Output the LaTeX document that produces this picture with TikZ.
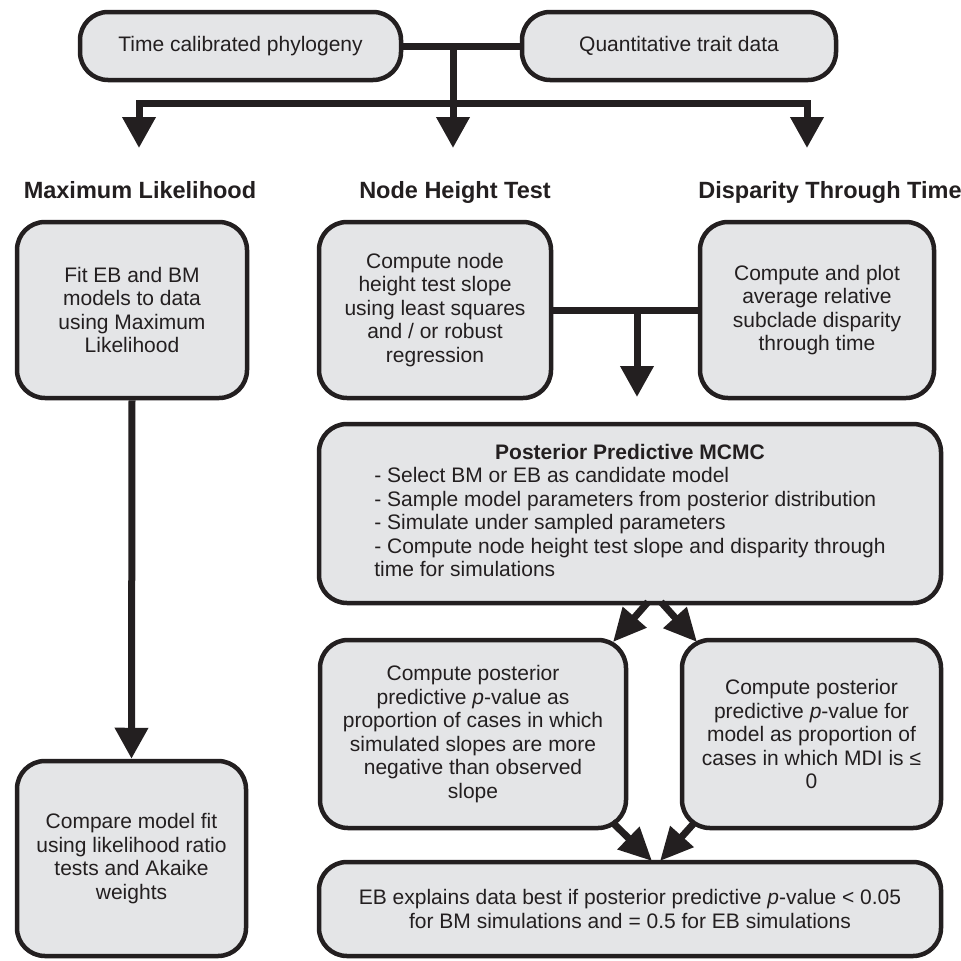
\documentclass[tikz,border=0pt]{standalone}
\usepackage{fontspec}
\setmainfont{Liberation Sans}
\usetikzlibrary{arrows.meta}
\definecolor{boxfill}{HTML}{E4E5E7}
\definecolor{ink}{HTML}{231F20}
\begin{document}
\begin{tikzpicture}[x=1pt,y=-1pt,
  box/.style={draw=ink, line width=4.5pt, fill=boxfill, rounded corners=28pt,
    inner sep=0pt, align=center, text=ink, font=\fontsize{21}{23.5}\selectfont},
  conn/.style={draw=ink, line width=7pt},
  arr/.style={conn, -{Triangle[length=31pt,width=32pt]}},
  darr/.style={conn, line cap=butt, -{Triangle[length=33pt,width=30pt]}},
  ttl/.style={font=\bfseries\fontsize{23.5}{26}\selectfont, text=ink, anchor=base}]
\fill[white] (0,0) rectangle (961,961);
\useasboundingbox (0,0) rectangle (961,961);

% top boxes
\node[box, minimum width=321pt, minimum height=68pt] (A) at (240.5,46) {Time calibrated phylogeny};
\node[box, minimum width=314pt, minimum height=68pt] (B) at (679,46) {Quantitative trait data};

% titles
\node[ttl] (tML) at (140,198) {Maximum Likelihood};
\node[ttl] (tNH) at (455,198) {Node Height Test};
\node[ttl] (tDT) at (830,198) {Disparity Through Time};

% boxes
\node[box, minimum width=230pt, minimum height=176pt] (ML) at (132,310)
  {Fit EB and BM\\models to data\\using Maximum\\Likelihood};
\node[box, minimum width=229pt, minimum height=195pt] (CMP) at (131.5,858.5)
  {Compare model fit\\using likelihood ratio\\tests and Akaike\\weights};
\node[box, minimum width=232pt, minimum height=176pt] (NHT) at (435,310)
  {Compute node\\height test slope\\using least squares\\and / or robust\\regression};
\node[box, minimum width=234pt, minimum height=176pt] (DTT) at (817,310)
  {Compute and plot\\average relative\\subclade disparity\\through time};
\node[box, minimum width=622pt, minimum height=179pt] (PP) at (630,513.5)
  {\begin{tabular}{@{}l@{}}
   \multicolumn{1}{@{}c@{}}{\bfseries Posterior Predictive MCMC}\\
   - Select BM or EB as candidate model\\
   - Sample model parameters from posterior distribution\\
   - Simulate under sampled parameters\\
   - Compute node height test slope and disparity through\\
   time for simulations
   \end{tabular}};
\node[box, minimum width=306pt, minimum height=188pt] (LB) at (473,734)
  {Compute posterior\\predictive \textit{p}-value as\\proportion of cases in which\\simulated slopes are more\\negative than observed\\slope};
\node[box, minimum width=259pt, minimum height=188pt] (RB) at (811.5,734)
  {Compute posterior\\predictive \textit{p}-value for\\model as proportion of\\cases in which MDI is ≤\\0};
\node[box, minimum width=622pt, minimum height=94pt] (BOT) at (630,909)
  {EB explains data best if posterior predictive \textit{p}-value < 0.05\\for BM simulations and = 0.5 for EB simulations};

% top connectors
\coordinate (jA) at (453,46);
\coordinate (tipM) at (453,148);
\coordinate (barL) at (139,103);
\coordinate (barR) at (807,103);
\coordinate (tipL) at (139,148);
\coordinate (tipR) at (807,148);
\draw[conn] (A.east) -- (B.west);
\draw[arr] (jA) -- (tipM);
\draw[conn, line join=miter, {Triangle[length=31pt,width=32pt]}-{Triangle[length=31pt,width=32pt]}]
  (tipL) -- (barL) -- (barR) -- (tipR);

% ML arrow
\draw[arr] (ML.south) -- (CMP.north);

% NHT - DTT connector
\coordinate (jN) at (637,310);
\coordinate (tipN) at (637,397);
\draw[conn] (NHT.east) -- (DTT.west);
\draw[arr] (jN) -- (tipN);

% PP to lower boxes
\coordinate (s1) at (648,602);
\coordinate (t1) at (613,642);
\coordinate (s2) at (661,602);
\coordinate (t2) at (697,642);
\draw[darr] (s1) -- (t1);
\draw[darr] (s2) -- (t2);

% lower boxes to bottom box
\coordinate (u1) at (612,822);
\coordinate (v1) at (652,861);
\coordinate (u2) at (695,822);
\coordinate (v2) at (660,861);
\draw[darr] (u1) -- (v1);
\draw[darr] (u2) -- (v2);
\end{tikzpicture}
\end{document}
